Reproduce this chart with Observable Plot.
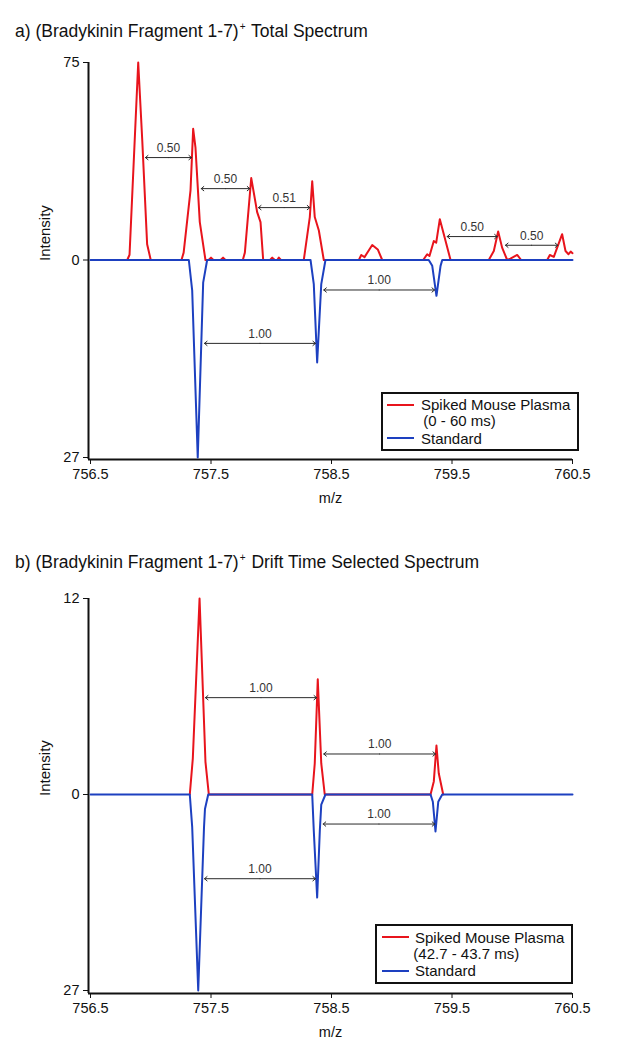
<!DOCTYPE html>
<html>
<head>
<meta charset="utf-8">
<script src="https://cdn.jsdelivr.net/npm/d3@7"></script>
<script src="https://cdn.jsdelivr.net/npm/@observablehq/plot@0.6"></script>
<style>
  html, body { margin: 0; padding: 0; background: #fff; }
  #root { position: relative; width: 620px; height: 1050px; overflow: hidden;
          font-family: "Liberation Sans", Arial, Helvetica, sans-serif; color: #111; }
  .title { position: absolute; left: 15px; font-size: 17.5px; line-height: 20px; white-space: nowrap; z-index: 2; }
  .title sup { font-size: 10px; vertical-align: baseline; position: relative; top: -7px; margin-left: 1px; margin-right: 1px; }
  .chart { position: absolute; left: 0; z-index: 1; }
  .legend { position: absolute; border: 2px solid #111; box-sizing: border-box; background: #fff; z-index: 3; }
  .legend .sw { position: absolute; height: 2px; width: 27px; }
  .legend .lt { position: absolute; font-size: 15px; line-height: 17px; white-space: nowrap; }
</style>
</head>
<body>
<div id="root"></div>
<script>
// ---------- data ----------
const xTicks = [756.5, 757.5, 758.5, 759.5, 760.5];
const yTicksA = [-27, 0, 75];   // shown as 27 / 0 / 75 (standard plotted downward)
const yTicksB = [-27, 0, 12];   // shown as 27 / 0 / 12

const titleA = ["a) (Bradykinin Fragment 1-7)", "+", " Total Spectrum"];
const titleB = ["b) (Bradykinin Fragment 1-7)", "+", " Drift Time Selected Spectrum"];
const xLabel = "m/z";
const yLabel = "Intensity";
const legendA = ["Spiked Mouse Plasma", "(0 - 60 ms)", "Standard"];
const legendB = ["Spiked Mouse Plasma", "(42.7 - 43.7 ms)", "Standard"];

// [m/z, intensity] — spiked mouse plasma, total spectrum
const redA = [
  [756.805,0],[756.824,2],[756.896,75],[756.93,45],[756.97,6],[757.0,0],
  [757.255,0],[757.273,2.8],[757.33,26.4],[757.352,49.8],[757.371,42.8],[757.407,14.4],[757.454,0],
  [757.48,0],[757.5,0.9],[757.52,0],[757.58,0],[757.6,0.9],[757.62,0],
  [757.764,0],[757.781,2.8],[757.834,31.1],[757.883,18.2],[757.911,14.4],[757.933,0],
  [757.99,0],[758.008,0.9],[758.03,0],[758.05,0],[758.063,0.9],[758.08,0],
  [758.27,0],[758.32,16.3],[758.34,29.9],[758.361,16.3],[758.395,11.2],[758.436,0],
  [758.727,0],[758.747,1.9],[758.774,1.1],[758.838,5.7],[758.884,4],[758.921,0],
  [759.261,0],[759.294,2.2],[759.313,1.5],[759.349,7.2],[759.369,6.6],[759.399,15.5],[759.432,9.8],[759.488,0],
  [759.805,0],[759.847,3.4],[759.883,10.8],[759.916,4.7],[759.958,0],[759.985,0.5],[760.041,1.9],[760.074,0],
  [760.29,0],[760.312,1.9],[760.345,1.2],[760.414,9.8],[760.442,3.4],[760.467,2.2],[760.485,3.2],[760.5,2.6]
];
// [m/z, intensity] — standard, total spectrum (drawn downward)
const blueA = [
  [756.5,0],[757.316,0],[757.344,4.2],[757.39,27],[757.435,3.1],[757.468,0],
  [758.326,0],[758.353,3.3],[758.381,14],[758.415,3.3],[758.45,0],
  [759.307,0],[759.336,0.8],[759.371,4.9],[759.405,0.8],[759.419,0],[760.5,0]
];
// [m/z, intensity] — spiked mouse plasma, drift time selected
const redB = [
  [757.324,0],[757.349,2.2],[757.405,12],[757.454,2],[757.482,0],
  [758.34,0],[758.361,1.9],[758.386,7.06],[758.415,1.9],[758.444,0],
  [759.322,0],[759.349,0.8],[759.371,3.0],[759.39,1.3],[759.427,0]
];
// [m/z, intensity] — standard, drift time selected (drawn downward)
const blueB = [
  [756.5,0],[757.324,0],[757.344,4.5],[757.394,27],[757.442,4.5],[757.45,2],[757.477,0],
  [758.34,0],[758.353,5],[758.381,14.2],[758.403,5],[758.415,1.4],[758.45,0],
  [759.322,0],[759.341,1],[759.363,5.1],[759.386,1],[759.419,0],[760.5,0]
];
// spacing annotations: [from m/z, to m/z, level (negative = standard side), label]
const arrowsA = [
  [756.956, 757.338, 38.9, "0.50"],
  [757.419, 757.822, 27.1, "0.50"],
  [757.894, 758.320, 19.9, "0.51"],
  [757.446, 758.367, -11.4, "1.00"],
  [758.436, 759.355, -4.1, "1.00"],
  [759.460, 759.875, 8.9, "0.50"],
  [759.944, 760.378, 5.6, "0.50"]
];
const arrowsB = [
  [757.454, 758.376, 5.93, "1.00"],
  [758.436, 759.363, 2.48, "1.00"],
  [758.431, 759.357, -4.07, "1.00"],
  [757.446, 758.367, -11.6, "1.00"]
];

const RED = "#e8141c";
const BLUE = "#1d40c0";
const FONT = '"Liberation Sans", Arial, Helvetica, sans-serif';

function spectrum({red, blue, yTicks, arrows, height, marginTop, marginBottom, insetBottom}) {
  const yDomain = [yTicks[0], 0, yTicks[yTicks.length - 1]];
  const mid = d => (d[0] + d[1]) / 2;
  const arrowStyle = {stroke: "#2a2a2a", strokeWidth: 1, headLength: 5, headAngle: 80};
  return Plot.plot({
    width: 620,
    height,
    marginLeft: 88,
    marginRight: 48,
    marginTop,
    marginBottom,
    style: {fontFamily: FONT, fontSize: "14.5px", color: "#111", background: "transparent", overflow: "visible"},
    x: {domain: [xTicks[0], xTicks[xTicks.length - 1]], ticks: xTicks, tickFormat: d => d.toFixed(1),
        tickSize: 5, tickPadding: 4, label: null, insetLeft: 2},
    y: {type: "linear", domain: yDomain, ticks: yTicks, tickFormat: d => String(Math.abs(d)),
        tickSize: 5, tickPadding: 4, label: null, insetBottom},
    marks: [
      Plot.ruleX([xTicks[0]], {dx: -2, stroke: "#111", strokeWidth: 2}),
      Plot.ruleY([yTicks[0]], {dy: insetBottom, stroke: "#111", strokeWidth: 2}),
      Plot.line(red, {x: d => d[0], y: d => d[1], stroke: RED, strokeWidth: 2, strokeLinejoin: "round"}),
      Plot.line(blue, {x: d => d[0], y: d => -d[1], stroke: BLUE, strokeWidth: 2, strokeLinejoin: "round"}),
      Plot.arrow(arrows, {x1: mid, x2: d => d[1], y1: d => d[2], y2: d => d[2], ...arrowStyle}),
      Plot.arrow(arrows, {x1: mid, x2: d => d[0], y1: d => d[2], y2: d => d[2], ...arrowStyle}),
      Plot.text(arrows, {x: mid, y: d => d[2], text: d => d[3],
        dy: -9.5, fontSize: 12, fill: "#333"}),
      Plot.text([xLabel], {frameAnchor: "bottom", dy: 43, fontSize: 14.5, fill: "#111"}),
      Plot.text([yLabel], {frameAnchor: "left", dx: -43, rotate: -90, fontSize: 15, fill: "#111"})
    ]
  });
}

function title(parts, top) {
  const d = document.createElement("div");
  d.className = "title";
  d.style.top = top + "px";
  d.append(parts[0]);
  const s = document.createElement("sup");
  s.textContent = parts[1];
  d.append(s);
  d.append(parts[2]);
  return d;
}

function legend(labels, box, rows) {
  const d = document.createElement("div");
  d.className = "legend";
  Object.assign(d.style, {left: box[0] + "px", top: box[1] + "px", width: box[2] + "px", height: box[3] + "px"});
  const sw = (color, y) => {
    const s = document.createElement("div");
    s.className = "sw";
    Object.assign(s.style, {left: rows.swLeft + "px", top: (y - 1) + "px", background: color});
    d.append(s);
  };
  const tx = (text, left, top) => {
    const t = document.createElement("div");
    t.className = "lt";
    t.textContent = text;
    Object.assign(t.style, {left: left + "px", top: top + "px"});
    d.append(t);
  };
  sw(RED, rows.sw[0]);
  sw(BLUE, rows.sw[1]);
  tx(labels[0], rows.txLeft[0], rows.tx[0]);
  tx(labels[1], rows.txLeft[1], rows.tx[1]);
  tx(labels[2], rows.txLeft[0], rows.tx[2]);
  return d;
}

const root = document.getElementById("root");

const a = spectrum({red: redA, blue: blueA, yTicks: yTicksA, arrows: arrowsA,
  height: 520, marginTop: 62, marginBottom: 61, insetBottom: 2});
a.classList.add("chart"); a.style.top = "0px";
root.append(a);

const b = spectrum({red: redB, blue: blueB, yTicks: yTicksB, arrows: arrowsB,
  height: 510, marginTop: 58, marginBottom: 57, insetBottom: 3});
b.classList.add("chart"); b.style.top = "540px";
root.append(b);

root.append(title(titleA, 20.6));
root.append(title(titleB, 552.2));

root.append(legend(legendA, [380.7, 391.7, 198, 59.5],
  {swLeft: 4, sw: [11.3, 44.6], txLeft: [38.3, 40.6], tx: [2.6, 18.6, 35.9]}));
root.append(legend(legendB, [375, 924, 198, 59.5],
  {swLeft: 4.7, sw: [11.3, 45], txLeft: [38, 36.3], tx: [3, 18.6, 36]}));
</script>
</body>
</html>
